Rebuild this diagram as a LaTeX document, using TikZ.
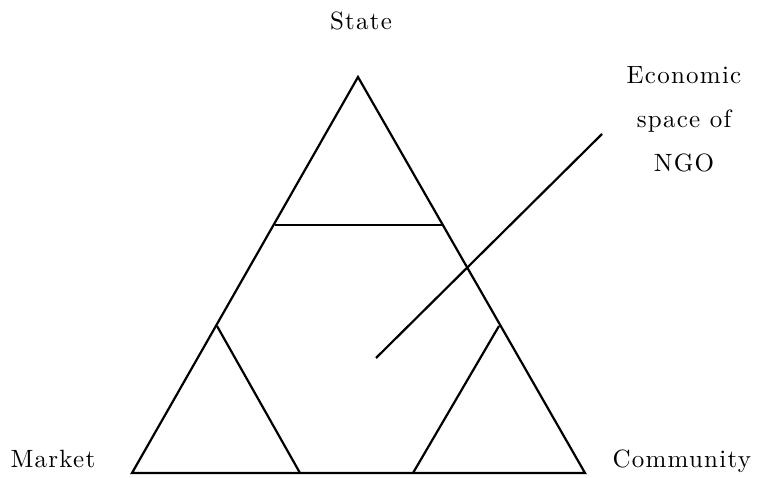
\documentclass[tikz,border=0pt]{standalone}
\usepackage{fontspec}
\newfontfamily\lblfont{Latin Modern Roman}[LetterSpace=5]
\begin{document}
\begin{tikzpicture}[x=1pt,y=-1pt,
  edge/.style={line width=2.2pt,line join=miter},
  lbl/.style={font=\lblfont,inner sep=0pt,align=center,scale=2.5,transform shape}]
\useasboundingbox (0,0) rectangle (765,477);
\coordinate (A) at (358,77);
\coordinate (L) at (132,473);
\coordinate (R) at (585,473);
\coordinate (hl) at (275,225);
\coordinate (hr) at (442,225);
\coordinate (lt) at (217,326);
\coordinate (lb) at (300,473);
\coordinate (rt) at (499,326);
\coordinate (rb) at (413,473);
\coordinate (p) at (376,358);
\coordinate (q) at (602,134);
\draw[edge] (A) -- (L) -- (R) -- cycle;
\draw[edge] (hl) -- (hr);
\draw[edge] (lt) -- (lb);
\draw[edge] (rt) -- (rb);
\draw[edge] (p) -- (q);
\node[lbl,anchor=base] (state) at (361,29) {State};
\node[lbl,anchor=north] (ngo) at (684,66) {Economic\\[5.6pt]space of\\[5.6pt]NGO};
\node[lbl,anchor=base west] (market) at (10,467) {Market};
\node[lbl,anchor=base west] (community) at (612,467) {Community};
\end{tikzpicture}
\end{document}
